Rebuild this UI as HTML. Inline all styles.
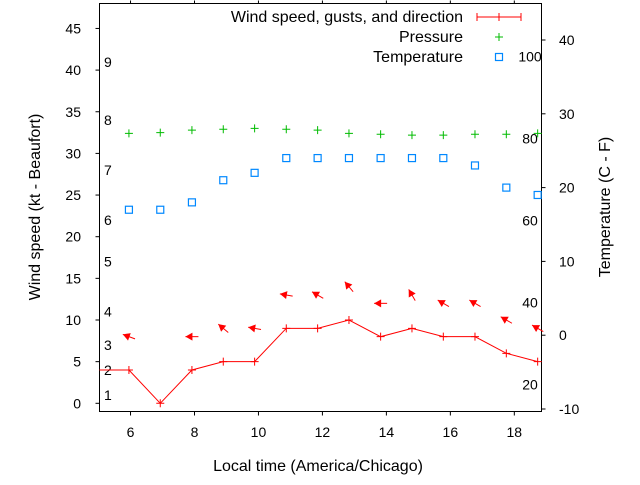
<!DOCTYPE html>
<html><head><meta charset="utf-8"><style>
body{margin:0;background:#fff}
svg text{font-family:"Liberation Sans",sans-serif;font-size:14px;fill:#000}
svg text.big{font-size:16px}
</style></head><body>
<svg id="chart" width="640" height="480" xmlns="http://www.w3.org/2000/svg"></svg>
<script>
const times=[5.95,6.93,7.92,8.9,9.88,10.87,11.85,12.83,13.82,14.8,15.78,16.77,17.75,18.73];
const windSpeed=[4,0,4,5,5,9,9,10,8,9,8,8,6,5];
const windDir=[110,null,90,130,100,100,120,140,90,150,120,120,120,120];
const pressure=[32.4,32.5,32.8,32.9,33.0,32.9,32.8,32.4,32.3,32.2,32.2,32.3,32.3,32.4];
const temperature=[17,17,18,21,22,24,24,24,24,24,24,23,20,19];
const xTicks=[6,8,10,12,14,16,18];
const yTicks=[0,5,10,15,20,25,30,35,40,45];
const y2Ticks=[-10,0,10,20,30,40];
const beaufort=[1,4,7,11,17,22,28,34,41];
const fahrenheit=[20,40,60,80,100];

const L=99.5,R=541.5,T=3.5,B=411.5;
const X=h=>L+(h-5.03)/(18.85-5.03)*(R-L);
const Y=v=>403.3-v*8.33;
const Y2=c=>40-(c-40)*7.38;
const svg=document.getElementById('chart');
const NS='http://www.w3.org/2000/svg';
function mk(tag,attrs,parent){const e=document.createElementNS(NS,tag);for(const k in attrs)e.setAttribute(k,attrs[k]);(parent||svg).appendChild(e);return e;}
function txt(s,x,y,anchor,parent){const t=mk('text',{x:x,y:y,'text-anchor':anchor||'middle'},parent);t.textContent=s;return t;}

xTicks.forEach(v=>{const x=X(v);
 const t=mk('line',{x1:x,x2:x,y1:B,y2:B+4,stroke:'#000'});
 
 mk('line',{x1:x,x2:x,y1:T,y2:T-3,stroke:'#000'});
 const l=txt(String(v),x,437);
 });
yTicks.forEach(v=>{const y=Y(v);
 mk('line',{x1:L-4,x2:L,y1:y,y2:y,stroke:'#000'});
 const l=txt(String(v),81,y+5,'end');
 });
y2Ticks.forEach(v=>{const y=Y2(v);
 mk('line',{x1:R,x2:R+4,y1:y,y2:y,stroke:'#000'});
 const l=txt(String(v),559,y+5,'start');
 });
beaufort.forEach((v,i)=>{const l=txt(String(i+1),104,Y(v)+5,'start');
 });
fahrenheit.forEach(f=>{const l=txt(String(f),530,Y2((f-32)*5/9)+5,'middle');
 });

const fr=mk('rect',{x:L,y:T,width:R-L,height:B-T,fill:'none',stroke:'#000'});


let pts=[[L,Y(windSpeed[0])]];
times.forEach((t,i)=>pts.push([X(t),Y(windSpeed[i])]));
const wl=mk('polyline',{points:pts.map(p=>p.join(',')).join(' '),fill:'none',stroke:'#f00','stroke-width':1});

times.forEach((t,i)=>{const x=X(t),y=Y(windSpeed[i]);
 const p=mk('path',{d:`M${x-4},${y}h8M${x},${y-4}v8`,stroke:'#f00'});
 
 if(windDir[i]!==null){
  const a=(windDir[i]+180)*Math.PI/180;
  const dx=Math.sin(a),dy=-Math.cos(a),len=13;
  const cx=x,cy=Y(windSpeed[i]+4);
  const hx=cx+dx*len/2,hy=cy+dy*len/2,tx=cx-dx*len/2,ty=cy-dy*len/2;
  const px=-dy,py=dx;
  const g=mk('g',{});
  
  mk('line',{x1:tx,y1:ty,x2:hx,y2:hy,stroke:'#f00'},g);
  mk('polygon',{points:`${hx},${hy} ${hx-dx*7+px*4},${hy-dy*7+py*4} ${hx-dx*7-px*4},${hy-dy*7-py*4}`,fill:'#f00'},g);
 }});
times.forEach((t,i)=>{const x=X(t),y=Y(pressure[i]);
 const p=mk('path',{d:`M${x-4},${y}h8M${x},${y-4}v8`,stroke:'#0b0'});
 });
times.forEach((t,i)=>{const x=X(t),y=Y2(temperature[i]);
 const r=mk('rect',{x:x-3.5,y:y-3.5,width:7,height:7,fill:'none',stroke:'#08f','stroke-width':1.2});
 });

const lg=mk('g',{});
txt('Wind speed, gusts, and direction',463,22,'end',lg).setAttribute('class','big');
mk('path',{d:'M477,17h44M477,13v8M521,13v8M499,13v8',stroke:'#f00'},lg);
txt('Pressure',463,42,'end',lg).setAttribute('class','big');
mk('path',{d:'M495,37h8M499,33v8',stroke:'#0b0'},lg);
txt('Temperature',463,62,'end',lg).setAttribute('class','big');
mk('rect',{x:495.5,y:53.5,width:7,height:7,fill:'none',stroke:'#08f','stroke-width':1.2},lg);

const xt=txt('Local time (America/Chicago)',318,471);xt.setAttribute('class','big');

const yt=txt('Wind speed (kt - Beaufort)',0,0);yt.setAttribute('class','big');yt.setAttribute('transform','translate(40,207) rotate(-90)');

const y2t=txt('Temperature (C - F)',0,0);y2t.setAttribute('class','big');y2t.setAttribute('transform','translate(610,207) rotate(-90)');

</script>
</body></html>
